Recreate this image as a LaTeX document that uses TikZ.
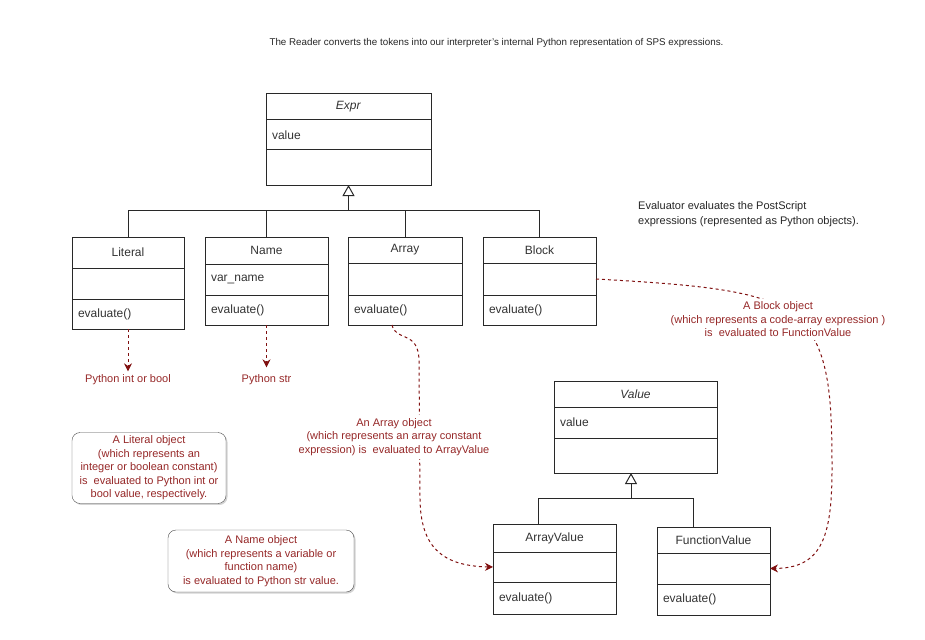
\documentclass[tikz,border=0pt]{standalone}
\usepackage{fontspec}
\setmainfont{Liberation Sans}
\usepackage{tikz}
\usetikzlibrary{positioning, arrows.meta, shadows}
\definecolor{boxline}{RGB}{40,40,40}
\definecolor{evalred}{RGB}{128,16,16}
\definecolor{notered}{RGB}{150,40,40}
\tikzstyle{classhead} = [
	rectangle,
	draw=boxline,
	line width=1pt,
	outer sep=0pt,
	minimum height=26pt,
	text centered,
	text=black!80
]
\tikzstyle{classrow} = [
	rectangle,
	draw=boxline,
	line width=1pt,
	outer sep=0pt,
	inner xsep=6pt,
	minimum height=31pt,
	align=left,
	text=black!80
]
\tikzstyle{inherit} = [draw=boxline, line width=1pt]
\tikzstyle{inheritarrow} = [inherit, -{Triangle[open, length=11pt, width=12pt]}]
\tikzstyle{evalarrow} = [draw=evalred, line width=1pt, dash pattern=on 3pt off 3pt, -{Stealth[length=8pt, width=8pt]}]
\tikzstyle{evaltext} = [text=notered, font=\fontsize{11}{13.5}\selectfont, align=center]
\tikzstyle{notebox} = [
	evaltext,
	rectangle,
	rounded corners=8pt,
	draw=black!70,
	fill=white,
	drop shadow={shadow xshift=1.5pt, shadow yshift=-1.5pt, opacity=0.35}
]

\begin{document}
\begin{tikzpicture}[x=1pt, y=-1pt, node distance=0pt, font=\fontsize{12}{14}\selectfont]
            \useasboundingbox (0,0) rectangle (925,639);
            \node (title) [font=\fontsize{9.8}{12}\selectfont, text=black!85] at (496.5,43) {The Reader converts the tokens into our interpreter's internal Python representation of SPS expressions.};
            \node (evalNote) [anchor=west, align=left, text=black!85, font=\fontsize{11}{15}\selectfont] at (634.7,214.5) {Evaluator evaluates the PostScript\\expressions (represented as Python objects).};

            \node (exprHead) [classhead, minimum width=165pt] at (348.5,107) {\textit{Expr}};
            \node (exprAttr) [classrow, text width=153pt, minimum height=30pt, below=of exprHead] {value};
            \node (exprOps) [classrow, text width=153pt, minimum height=35pt, below=of exprAttr] {};

            \node (literalHead) [classhead, minimum width=112pt, minimum height=31pt] at (128,252.5) {Literal};
            \node (literalAttr) [classrow, text width=100pt, below=of literalHead] {};
            \node (literalOps) [classrow, text width=100pt, minimum height=30pt, below=of literalAttr] {evaluate()};

            \node (nameHead) [classhead, minimum width=123pt, minimum height=27pt] at (266.5,250.5) {Name};
            \node (nameAttr) [classrow, text width=111pt, below=of nameHead] {var\_name};
            \node (nameOps) [classrow, text width=111pt, minimum height=30pt, below=of nameAttr] {evaluate()};

            \node (arrayHead) [classhead, minimum width=114pt] at (405,250) {Array};
            \node (arrayAttr) [classrow, text width=102pt, minimum height=32pt, below=of arrayHead] {};
            \node (arrayOps) [classrow, text width=102pt, minimum height=30pt, below=of arrayAttr] {evaluate()};

            \node (blockHead) [classhead, minimum width=113pt] at (539.5,250) {Block};
            \node (blockAttr) [classrow, text width=101pt, minimum height=32pt, below=of blockHead] {};
            \node (blockOps) [classrow, text width=101pt, minimum height=30pt, below=of blockAttr] {evaluate()};

            \node (valueHead) [classhead, minimum width=163pt] at (635.5,394) {\textit{Value}};
            \node (valueAttr) [classrow, text width=151pt, below=of valueHead] {value};
            \node (valueOps) [classrow, text width=151pt, minimum height=35pt, below=of valueAttr] {};

            \node (arrayValueHead) [classhead, minimum width=123pt, minimum height=28pt] at (554.5,538) {ArrayValue};
            \node (arrayValueAttr) [classrow, text width=111pt, minimum height=30pt, below=of arrayValueHead] {};
            \node (arrayValueOps) [classrow, text width=111pt, minimum height=32pt, below=of arrayValueAttr] {evaluate()};

            \node (functionValueHead) [classhead, minimum width=113pt] at (713.5,540) {FunctionValue};
            \node (functionValueAttr) [classrow, text width=101pt, below=of functionValueHead] {};
            \node (functionValueOps) [classrow, text width=101pt, below=of functionValueAttr] {evaluate()};

            \coordinate (exprJoin) at (348.5,210);
            \draw [inherit] (literalHead) |- (exprJoin);
            \draw [inherit] (nameHead) |- (exprJoin);
            \draw [inherit] (arrayHead) |- (exprJoin);
            \draw [inherit] (blockHead) |- (exprJoin);
            \draw [inheritarrow] (exprJoin) -- (exprOps);

            \coordinate (valueJoin) at (631,498);
            \draw [inherit] ([xshift=-16.5pt]arrayValueHead.north) |- (valueJoin);
            \draw [inherit] ([xshift=-20.5pt]functionValueHead.north) |- (valueJoin);
            \draw [inheritarrow] (valueJoin) -- ([xshift=-4.5pt]valueOps.south);

            \node (literalResult) [evaltext] at (128,380) {Python int or bool};
            \node (nameResult) [evaltext] at (266.5,380) {Python str};
            \draw [evalarrow] (literalOps) -- (literalResult);
            \draw [evalarrow, shorten >=4pt] (nameOps) -- (nameResult);

            \draw [evalarrow] ([xshift=-13pt]arrayOps.south) .. controls (396,342) and (418,330) .. (419,360) -- (420,500) .. controls (421,545) and (440,566) .. (arrayValueAttr.west);
            \node (arrayNote) [evaltext, fill=white] at (394,437) {An Array object\\(which represents an array constant\\expression) is\ \ evaluated to ArrayValue};

            \draw [evalarrow] (blockAttr.east) .. controls (700,285) and (770,290) .. (800,320) .. controls (830,350) and (832,400) .. (832,470) .. controls (832,540) and (820,568) .. (functionValueAttr.east);
            \node (blockNote) [evaltext, fill=white] at (778,319.5) {A Block object\\(which represents a code-array expression )\\is\ \ evaluated to FunctionValue};

            \node (literalNote) [notebox, minimum width=154pt, minimum height=70pt] at (149,468) {A Literal object\\(which represents an\\integer or boolean constant)\\is\ \ evaluated to Python int or\\bool value, respectively.};
            \node (nameNote) [notebox, minimum width=186pt, minimum height=62pt] at (261,561) {A Name object\\(which represents a variable or\\function name)\\is evaluated to Python str value.};
          \end{tikzpicture}
\end{document}
